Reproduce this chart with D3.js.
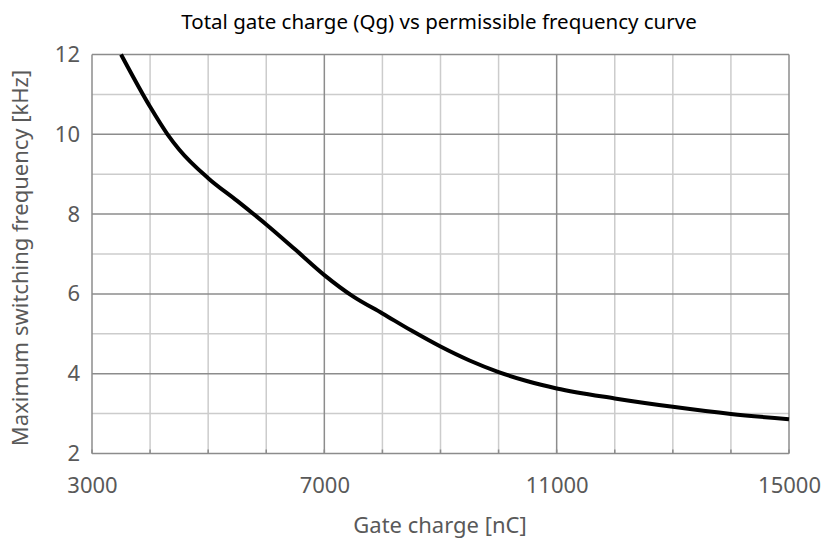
<!DOCTYPE html>
<html><head><meta charset="utf-8">
<script src="https://cdn.jsdelivr.net/npm/d3@7"></script>
<style>body{margin:0;background:#fff}svg{display:block}</style>
</head><body><div id="chart"></div>
<script>
const title = "Total gate charge (Qg) vs permissible frequency curve";
const xTitle = "Gate charge [nC]";
const yTitle = "Maximum switching frequency [kHz]";
const gateCharge = [3500,4000,4300,4500,5000,5500,6000,6500,7000,7500,8000,8500,9000,9500,10000,10500,11000,12000,13000,14000,15000];
const frequency  = [12.0,10.69,10.0,9.62,8.90,8.33,7.74,7.11,6.47,5.93,5.51,5.08,4.68,4.33,4.04,3.81,3.63,3.38,3.17,2.99,2.86];
const xTickLabels = [3000,7000,11000,15000];
const yTickLabels = [2,4,6,8,10,12];
const xMinor = d3.range(3000,15001,1000);
const yMinor = d3.range(2,12.01,1);

const W=823,H=539;
const m={l:92,r:823-789,t:54.5,b:539-453.5};
const svg=d3.select("#chart").append("svg").attr("width",W).attr("height",H);
const x=d3.scaleLinear().domain([3000,15000]).range([m.l,W-m.r]);
const y=d3.scaleLinear().domain([2,12]).range([H-m.b,m.t]);
const font="'Noto Sans', 'Open Sans', sans-serif";

// minor grid
svg.append("g").selectAll("line").data(xMinor.filter(v=>!xTickLabels.includes(v))).join("line")
 .attr("x1",d=>x(d)).attr("x2",d=>x(d)).attr("y1",y(2)).attr("y2",y(12))
 .attr("stroke","#cccccc").attr("stroke-width",1.5);
svg.append("g").selectAll("line").data(yMinor.filter(v=>!yTickLabels.includes(v))).join("line")
 .attr("y1",d=>y(d)).attr("y2",d=>y(d)).attr("x1",x(3000)).attr("x2",x(15000))
 .attr("stroke","#cccccc").attr("stroke-width",1.5);
// major grid
svg.append("g").selectAll("line").data(yTickLabels).join("line")
 .attr("y1",d=>y(d)).attr("y2",d=>y(d)).attr("x1",x(3000)).attr("x2",x(15000))
 .attr("stroke","#8c8c8c").attr("stroke-width",1.5);
svg.append("g").selectAll("line").data(xTickLabels).join("line")
 .attr("x1",d=>x(d)).attr("x2",d=>x(d)).attr("y1",y(2)).attr("y2",y(12))
 .attr("stroke","#8c8c8c").attr("stroke-width",1.5);
// minor tick marks on bottom axis
svg.append("g").selectAll("line").data(xMinor).join("line")
 .attr("x1",d=>x(d)).attr("x2",d=>x(d)).attr("y1",y(2)).attr("y2",y(2)-4)
 .attr("stroke","#8c8c8c").attr("stroke-width",1.5);

// axes labels via d3 axes
const xAxis=svg.append("g").attr("transform",`translate(0,${y(2)})`)
 .call(d3.axisBottom(x).tickValues(xTickLabels).tickSize(0).tickPadding(24).tickFormat(d3.format("d")));
xAxis.select(".domain").remove();
xAxis.selectAll("text").attr("font-family",font).attr("font-size",22).attr("fill","#595959");
const yAxis=svg.append("g").attr("transform",`translate(${x(3000)},0)`)
 .call(d3.axisLeft(y).tickValues(yTickLabels).tickSize(0).tickPadding(12));
yAxis.select(".domain").remove();
yAxis.selectAll("text").attr("font-family",font).attr("font-size",22).attr("fill","#595959");

// curve
svg.append("path").datum(gateCharge.map((g,i)=>[g,frequency[i]]))
 .attr("fill","none").attr("stroke","#000").attr("stroke-width",4).attr("stroke-linejoin","round")
 .attr("d",d3.line().x(d=>x(d[0])).y(d=>y(d[1])).curve(d3.curveMonotoneX));

// titles
svg.append("text").attr("x",439).attr("y",29).attr("text-anchor","middle")
 .attr("font-family",font).attr("font-size",20.5).attr("fill","#000").text(title);
svg.append("text").attr("x",440).attr("y",533).attr("text-anchor","middle")
 .attr("font-family",font).attr("font-size",22).attr("fill","#595959").text(xTitle);
svg.append("text").attr("transform",`translate(28,258) rotate(-90)`).attr("text-anchor","middle")
 .attr("font-family",font).attr("font-size",22).attr("fill","#595959").text(yTitle);
</script></body></html>
